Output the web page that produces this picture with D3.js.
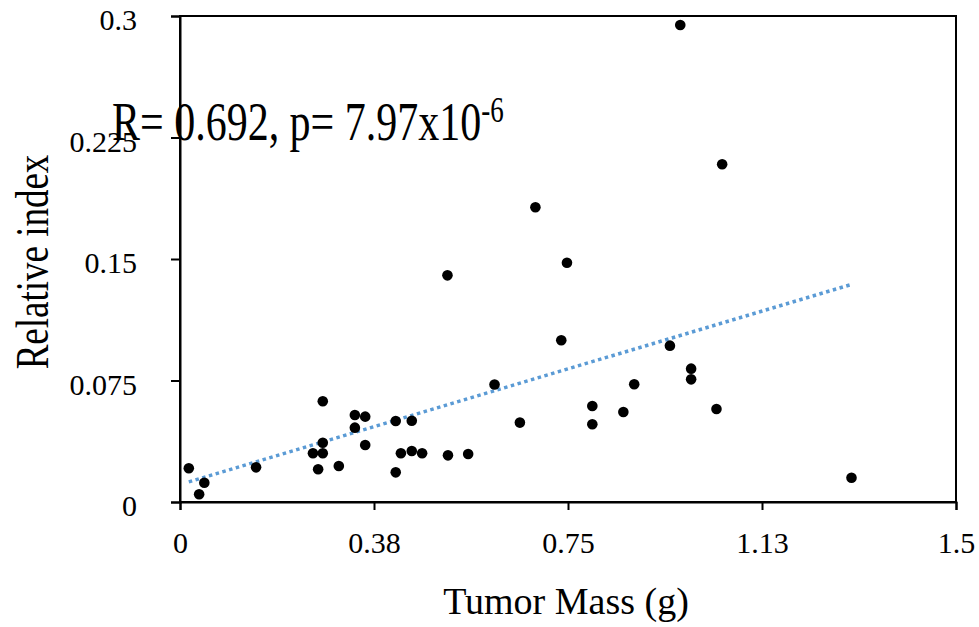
<!DOCTYPE html>
<html>
<head>
<meta charset="utf-8">
<script src="https://cdn.jsdelivr.net/npm/d3@7"></script>
<style>
  html, body { margin: 0; padding: 0; background: #fff; }
  svg { display: block; }
  text { font-family: "Liberation Serif", "Times New Roman", serif; fill: #000; }
</style>
</head>
<body>
<svg id="chart" width="979" height="627"></svg>
<script>
// ---- data ----
const tumorMass = [
  0.017, 0.037, 0.047, 0.147, 0.257, 0.267, 0.276, 0.276, 0.276, 0.307,
  0.338, 0.338, 0.358, 0.358, 0.417, 0.417, 0.427, 0.448, 0.448, 0.468,
  0.517, 0.518, 0.557, 0.608, 0.657, 0.687, 0.737, 0.748, 0.797, 0.797,
  0.857, 0.878, 0.947, 0.967, 0.988, 0.988, 1.037, 1.048, 1.298
];
const relativeIndex = [
  0.0208, 0.0048, 0.0119, 0.0214, 0.0301, 0.0202, 0.0622, 0.0366, 0.0301, 0.0222,
  0.0537, 0.0459, 0.0527, 0.0352, 0.0500, 0.0183, 0.0301, 0.0502, 0.0315, 0.0301,
  0.1399, 0.0288, 0.0296, 0.0725, 0.0490, 0.1819, 0.0998, 0.1477, 0.0593, 0.0480,
  0.0556, 0.0727, 0.0965, 0.2944, 0.0823, 0.0757, 0.0574, 0.2085, 0.0150
];
const xTickValues = [0, 0.375, 0.75, 1.125, 1.5];
const xTickLabels = ["0", "0.38", "0.75", "1.13", "1.5"];
const yTickValues = [0, 0.075, 0.15, 0.225, 0.3];
const yTickLabels = ["0", "0.075", "0.15", "0.225", "0.3"];
const xTitle = "Tumor Mass (g)";
const yTitle = "Relative index";
const annotationMain = "R= 0.692, p= 7.97x10";
const annotationSup = "-6";

// ---- layout ----
const svg = d3.select("#chart");
const L = 180, R = 956, T = 16, B = 502;

const x = d3.scaleLinear().domain([0, 1.5]).range([L, R]);
const y = d3.scaleLinear().domain([0, 0.3]).range([B, T]);

// frame
svg.append("rect")
  .attr("x", L).attr("y", T).attr("width", R - L).attr("height", B - T)
  .attr("fill", "none").attr("stroke", "#000").attr("stroke-width", 2);

// axes
const xAxis = d3.axisBottom(x).tickValues(xTickValues)
  .tickFormat((d, i) => xTickLabels[i]).tickSize(8).tickPadding(22);
const gx = svg.append("g").attr("transform", `translate(0,${B})`).call(xAxis);
gx.select(".domain").attr("stroke", "#000").attr("stroke-width", 2);
gx.selectAll(".tick line").attr("stroke", "#000").attr("stroke-width", 2);
gx.selectAll(".tick text").attr("font-size", 30)
  .attr("font-family", "'Liberation Serif', 'Times New Roman', serif").attr("fill", "#000");

const yAxis = d3.axisLeft(y).tickValues(yTickValues)
  .tickFormat((d, i) => yTickLabels[i]).tickSize(9).tickPadding(34);
const gy = svg.append("g").attr("transform", `translate(${L},0)`).call(yAxis);
gy.select(".domain").attr("stroke", "#000").attr("stroke-width", 2);
gy.selectAll(".tick line").attr("stroke", "#000").attr("stroke-width", 2);
gy.selectAll(".tick text").attr("font-size", 30).attr("dy", "0.45em")
  .attr("font-family", "'Liberation Serif', 'Times New Roman', serif").attr("fill", "#000");

// trend line (least squares fit of the points)
const pts = tumorMass.map((v, i) => [v, relativeIndex[i]]);
const mx = d3.mean(tumorMass), my = d3.mean(relativeIndex);
const sxy = d3.sum(pts, p => (p[0] - mx) * (p[1] - my));
const sxx = d3.sum(pts, p => (p[0] - mx) ** 2);
const slope = sxy / sxx, intercept = my - slope * mx;
const [xmin, xmax] = d3.extent(tumorMass);
svg.append("path")
  .datum([xmin, xmax])
  .attr("d", d3.line().x(d => x(d)).y(d => y(intercept + slope * d)))
  .attr("fill", "none")
  .attr("stroke", "#5B9BD5")
  .attr("stroke-width", 3.5)
  .attr("stroke-dasharray", "3.5,3.5");

// points
svg.append("g").selectAll("circle")
  .data(pts).join("circle")
  .attr("cx", d => x(d[0])).attr("cy", d => y(d[1]))
  .attr("r", 5.3).attr("fill", "#000");

// axis titles
svg.append("text")
  .attr("x", 566).attr("y", 614)
  .attr("text-anchor", "middle").attr("font-size", 38)
  .text(xTitle);

svg.append("text")
  .attr("transform", "translate(48,262) rotate(-90) scale(1,1.28)")
  .attr("text-anchor", "middle").attr("font-size", 37)
  .text(yTitle);

// annotation
const ann = svg.append("text")
  .attr("transform", "translate(112,140) scale(1,1.3)")
  .attr("font-size", 42);
ann.append("tspan").text(annotationMain);
ann.append("tspan").attr("font-size", 27).attr("dy", -14).text(annotationSup);
</script>
</body>
</html>
